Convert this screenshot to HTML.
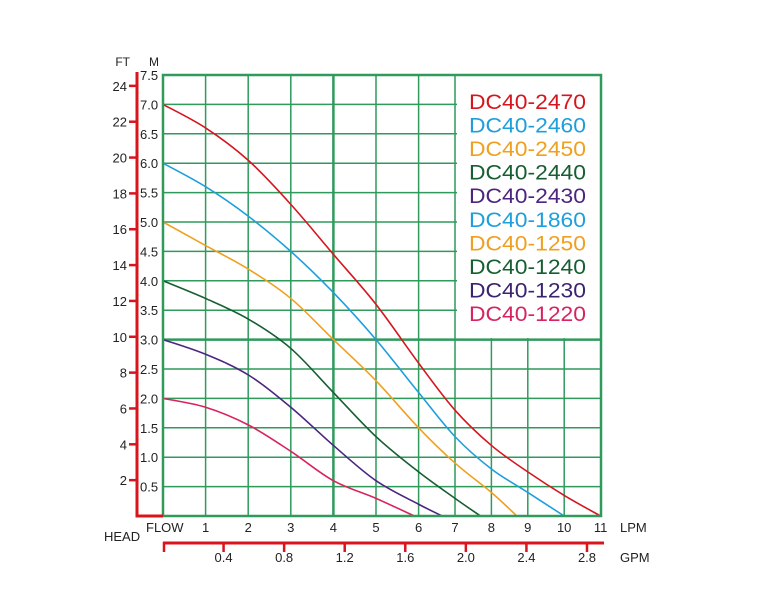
<!DOCTYPE html>
<html><head><meta charset="utf-8"><style>
body{margin:0;background:#fff}
svg{display:block;font-family:"Liberation Sans",sans-serif}
</style></head><body>
<svg id="chart" width="767" height="595" viewBox="0 0 767 595" xmlns="http://www.w3.org/2000/svg">
<g id="grid"></g>
<g id="legendbox"></g>
<g id="curves"></g>
<g id="axes"></g>
</svg>
<script>
const lpmTicks=[1,2,3,4,5,6,7,8,9,10,11];
const mTicks=[0.5,1.0,1.5,2.0,2.5,3.0,3.5,4.0,4.5,5.0,5.5,6.0,6.5,7.0,7.5];
const ftTicks=[2,4,6,8,10,12,14,16,18,20,22,24];
const gpmTicks=[0.4,0.8,1.2,1.6,2.0,2.4,2.8];
const seriesNames=["DC40-2470","DC40-2460","DC40-2450","DC40-2440","DC40-2430","DC40-1220"];
const legendNames=["DC40-2470","DC40-2460","DC40-2450","DC40-2440","DC40-2430","DC40-1860","DC40-1250","DC40-1240","DC40-1230","DC40-1220"];
const flow2470=[0,1,2,3,4,5,6,7,8,9,10,11];
const head2470=[7.0,6.6,6.05,5.3,4.45,3.6,2.6,1.8,1.2,0.75,0.35,0];
const flow2460=[0,1,2,3,4,5,6,7,8,9,10];
const head2460=[6.0,5.6,5.1,4.5,3.8,3.0,2.1,1.35,0.8,0.4,0];
const flow2450=[0,1,2,3,4,5,6,7,8,8.7];
const head2450=[5.0,4.6,4.2,3.7,3.0,2.3,1.5,0.9,0.4,0];
const flow2440=[0,1,2,3,4,5,6,7,7.7];
const head2440=[4.0,3.7,3.35,2.85,2.1,1.35,0.75,0.3,0];
const flow2430=[0,1,2,3,4,5,6,6.65];
const head2430=[3.0,2.75,2.4,1.85,1.2,0.6,0.2,0];
const flow1220=[0,1,2,3,4,5,5.9];
const head1220=[2.0,1.85,1.55,1.1,0.6,0.3,0];

const NS="http://www.w3.org/2000/svg";
const X0=163,X1=601,Y0=516,Y1=75;
function xs(v){return v<=6?X0+42.6*v:X0+42.6*6+36.4*(v-6);}
function ys(m){return Y0-(Y0-Y1)*m/7.5;}
function gx(g){return X0+(587-X0)*g/2.8;}
function mk(tag,attrs,parent){const e=document.createElementNS(NS,tag);for(const k in attrs)e.setAttribute(k,attrs[k]);document.getElementById(parent).appendChild(e);return e;}
const G="#2f9a5c";
for(const m of mTicks){if(m>=7.5)continue;
 const l=mk("line",{x1:X0,x2:X1,y1:ys(m),y2:ys(m),stroke:G,"stroke-width":m===3?2.5:1.5},"grid");
 
 }
for(const v of lpmTicks){if(v>=11)continue;
 const l=mk("line",{x1:xs(v),x2:xs(v),y1:Y0,y2:Y1,stroke:G,"stroke-width":v===4?2.5:1.5},"grid");
 
 }
const lb=mk("rect",{x:457,y:Y1,width:X1-457,height:ys(3)-Y1-1.5,fill:"#fff"},"legendbox");


const colors={"2470":"#d6161e","2460":"#1e9fdc","2450":"#f0a020","2440":"#175e32","2430":"#4b2580","1860":"#1e9fdc","1250":"#f0a020","1240":"#175e32","1230":"#3a2470","1220":"#d8245e"};
legendNames.forEach((n,i)=>{
 const t=mk("text",{x:469,y:109+23.55*i,"font-size":21,fill:colors[n.slice(5)],textLength:117,lengthAdjust:"spacingAndGlyphs"},"legendbox");
 t.textContent=n;
 
 });
function path(fx,hy){const p=fx.map((f,i)=>[xs(f),ys(hy[i])]);let d="M"+p[0][0]+","+p[0][1];
 for(let i=0;i<p.length-1;i++){const a=p[i-1]||p[i],b=p[i],c=p[i+1],e=p[i+2]||c;
  d+=` C${b[0]+(c[0]-a[0])/6},${b[1]+(c[1]-a[1])/6} ${c[0]-(e[0]-b[0])/6},${c[1]-(e[1]-b[1])/6} ${c[0]},${c[1]}`;}return d;}
const sets=[[flow2470,head2470],[flow2460,head2460],[flow2450,head2450],[flow2440,head2440],[flow2430,head2430],[flow1220,head1220]];
sets.forEach((s,i)=>{
 const p=mk("path",{d:path(s[0],s[1]),fill:"none",stroke:colors[seriesNames[i].slice(5)],"stroke-width":1.6},"curves");
 
 });
const br=mk("rect",{x:X0,y:Y1,width:X1-X0,height:Y0-Y1,fill:"none",stroke:G,"stroke-width":2.5},"axes");


const R="#d8141c";
function txt(x,y,s,size,anchor,name){const t=mk("text",{x:x,y:y,"font-size":size,fill:"#222","text-anchor":anchor},"axes");t.textContent=s;
 
 return t;}
const fa=mk("line",{x1:137,x2:137,y1:72,y2:Y0+1,stroke:R,"stroke-width":3},"axes");


const fb=mk("line",{x1:135.5,x2:163,y1:Y0,y2:Y0,stroke:R,"stroke-width":3},"axes");


for(const f of ftTicks){const y=ys(f*0.3048);
 const l=mk("line",{x1:129,x2:137,y1:y,y2:y,stroke:R,"stroke-width":2.5},"axes");
 
 
 txt(127,y+5,String(f),13,"end","ft-tick-label");}
for(const m of mTicks){txt(140,ys(m)+5,m.toFixed(1),13,"start","m-tick-label");}
txt(130,66,"FT",12,"end","ft-axis-title");
txt(149,66,"M",12,"start","m-axis-title");
txt(146,532,"FLOW",13,"start","flow-label");
txt(104,541,"HEAD",13,"start","head-label");
for(const v of lpmTicks){txt(xs(v),532,String(v),13,"middle","lpm-tick-label");}
txt(620,532,"LPM",13,"start","lpm-axis-title");
const ga=mk("line",{x1:X0,x2:604,y1:543,y2:543,stroke:R,"stroke-width":3},"axes");


const g0=mk("line",{x1:X0+1,x2:X0+1,y1:542,y2:552,stroke:R,"stroke-width":2.5},"axes");


for(const g of gpmTicks){
 const l=mk("line",{x1:gx(g),x2:gx(g),y1:542,y2:552,stroke:R,"stroke-width":2.5},"axes");
 
 
 txt(gx(g),562,g.toFixed(1),13,"middle","gpm-tick-label");}
txt(620,562,"GPM",13,"start","gpm-axis-title");
</script>
</body></html>
